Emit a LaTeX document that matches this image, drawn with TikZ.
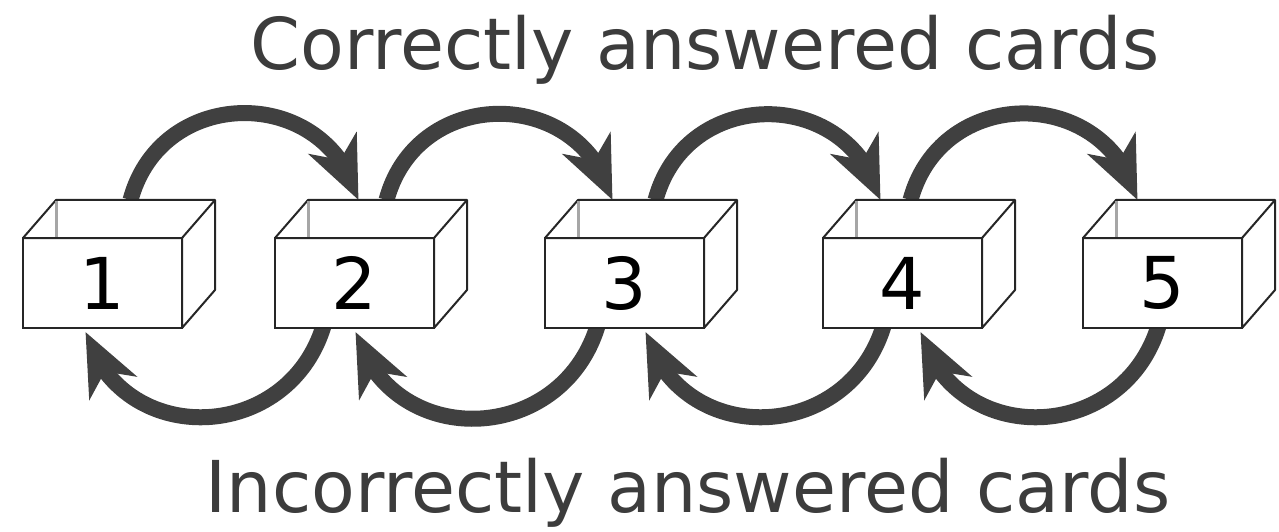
\documentclass[tikz,border=0pt]{standalone}
\usepackage{fontspec}
\setmainfont{DejaVu Sans}
\usetikzlibrary{arrows.meta, bending, positioning, backgrounds}
\definecolor{ArrowGrey}{HTML}{404040}
\definecolor{TextGrey}{HTML}{3C3C3C}

\begin{document}
\begin{tikzpicture}[x=1pt, y=1pt,
    box/.style={draw=black!85, line width=2pt, fill=white, minimum width=159pt,
      minimum height=90pt, inner sep=0pt, outer sep=0pt,
      font=\fontsize{71.5}{80}\selectfont},
    lid/.style={draw=black!85, line width=2pt, fill=white, line join=round},
    move/.style={-{Stealth[length=62pt, width=52pt, inset=18pt, flex]},
      line width=16pt, ArrowGrey},
    caption/.style={font=\fontsize{71.5}{80}\selectfont, text=TextGrey,
      inner sep=0pt, anchor=base}]
  \useasboundingbox (0,0) rectangle (1279,531);

  % the five boxes
  \node[box] (b1) at (102.5,248) {1};
  \node[box, right=93pt of b1] (b2) {2};
  \node[box, right=111pt of b2] (b3) {3};
  \node[box, right=119pt of b3] (b4) {4};
  \node[box, right=101pt of b4] (b5) {5};
  \foreach \b in {b1,b2,b3,b4,b5} {
    \draw[lid] (\b.north west) -- ++(33,38) -- ++(159,0) -- ++(0,-90)
      -- (\b.south east) -- (\b.north east) -- cycle;
    \draw[lid] (\b.north east) -- ++(33,38);
    \draw[black!35, line width=3pt] ([shift={(33,37)}]\b.north west) -- ++(0,-36);
  }

  \node[caption] (right) at (705,461) {Correctly answered cards};
  \node[caption] (wrong) at (688,19) {Incorrectly answered cards};

  % arrows behind the boxes
  \begin{scope}[on background layer]
    \draw[move] ([xshift=28pt, yshift=38pt]b1.north) to[out=75, in=105, looseness=1.35] ([xshift=4pt, yshift=38pt]b2.north);
    \draw[move] ([xshift=32pt, yshift=38pt]b2.north) to[out=75, in=105, looseness=1.35] ([xshift=-12pt, yshift=38pt]b3.north);
    \draw[move] ([xshift=31pt, yshift=38pt]b3.north) to[out=75, in=105, looseness=1.35] ([xshift=-22pt, yshift=38pt]b4.north);
    \draw[move] ([xshift=8pt, yshift=38pt]b4.north) to[out=75, in=105, looseness=1.35] ([xshift=-25pt, yshift=38pt]b5.north);
    \draw[move] ([xshift=-31pt, yshift=2pt]b2.south) to[out=-107, in=-73, looseness=1.32] ([xshift=-17pt, yshift=-4pt]b1.south);
    \draw[move] ([xshift=-27pt, yshift=2pt]b3.south) to[out=-107, in=-73, looseness=1.32] ([xshift=1pt, yshift=-4pt]b2.south);
    \draw[move] ([xshift=-19pt, yshift=2pt]b4.south) to[out=-107, in=-73, looseness=1.32] ([xshift=21pt, yshift=-4pt]b3.south);
    \draw[move] ([xshift=-4pt, yshift=2pt]b5.south) to[out=-107, in=-73, looseness=1.32] ([xshift=18pt, yshift=-4pt]b4.south);
  \end{scope}
\end{tikzpicture}
\end{document}
